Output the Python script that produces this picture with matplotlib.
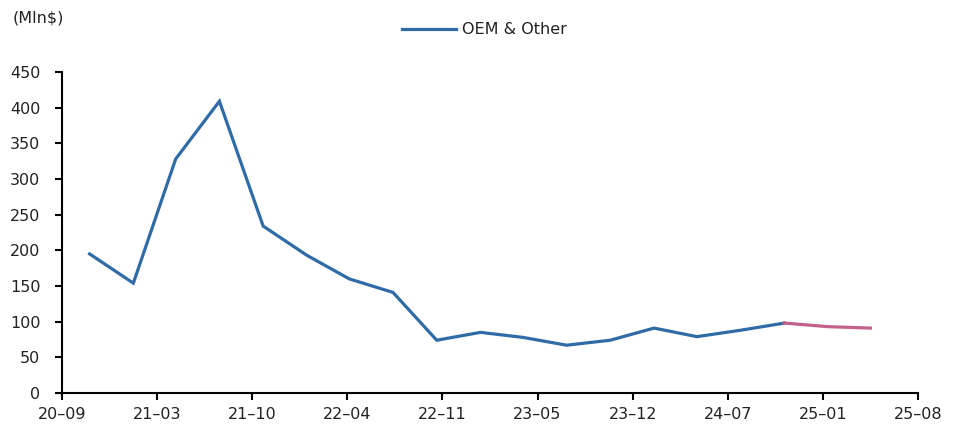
import matplotlib
matplotlib.use("Agg")
import matplotlib.pyplot as plt
import matplotlib.dates as mdates
import pandas as pd
import numpy as np

plt.rcParams['font.family'] = ['DejaVu Sans']

dates = ["2020-10-31", "2021-01-31", "2021-04-30", "2021-07-31", "2021-10-31",
         "2022-01-31", "2022-04-30", "2022-07-31", "2022-10-31", "2023-01-31",
         "2023-04-30", "2023-07-31", "2023-10-31", "2024-01-31", "2024-04-30",
         "2024-07-31", "2024-10-31", "2025-01-31", "2025-04-30"]
oem_other = [195, 154, 328, 409, 234, 193, 160, 141, 74, 85,
             78, 67, 74, 91, 79, 88, 98, 93, 91]
n_actual = 17  # points drawn in blue; remaining are forecast (pink)

series_name = "OEM & Other"
unit_label = "(Mln$)"
y_ticks = [0, 50, 100, 150, 200, 250, 300, 350, 400, 450]

x = pd.to_datetime(dates)
blue = "#2F6BA6"
pink = "#C2628A"
txt = "#222222"

fig = plt.figure(figsize=(9.59, 4.28), dpi=100)
ax = fig.add_axes([62/959, 35/428, (918-62)/959, (393-72)/428])

ax.plot(x[:n_actual], oem_other[:n_actual], color=blue, lw=2.3,
        solid_joinstyle='miter', label=series_name)
ax.plot(x[n_actual-1:], oem_other[n_actual-1:], color=pink, lw=2.3,
        solid_joinstyle='miter')

start = pd.Timestamp("2020-09-03")
ticks = [start + pd.Timedelta(days=200*i) for i in range(10)]
ax.set_xlim(ticks[0], ticks[-1])
ax.set_xticks(ticks)
ax.xaxis.set_major_formatter(mdates.DateFormatter("%y\u2013%m"))
ax.set_ylim(0, 450)
ax.set_yticks(y_ticks)

for s in ['top', 'right']:
    ax.spines[s].set_visible(False)
for s in ['left', 'bottom']:
    ax.spines[s].set_linewidth(1.5)
    ax.spines[s].set_color('black')
ax.tick_params(axis='both', direction='out', length=5, width=1.5,
               labelsize=11.5, labelcolor=txt, color='black')
ax.tick_params(axis='y', pad=10.5)
ax.tick_params(axis='x', pad=5)

fig.text(13/959, 1-18/428, unit_label, fontsize=11.5, va='center', ha='left',
         color=txt)
ax.legend(loc='center', bbox_to_anchor=((484-62)/856, (393-30)/321),
          frameon=False, fontsize=11.5, handlelength=3.4, handletextpad=0.35,
          labelcolor=txt)

fig.savefig("out.png", dpi=100)
